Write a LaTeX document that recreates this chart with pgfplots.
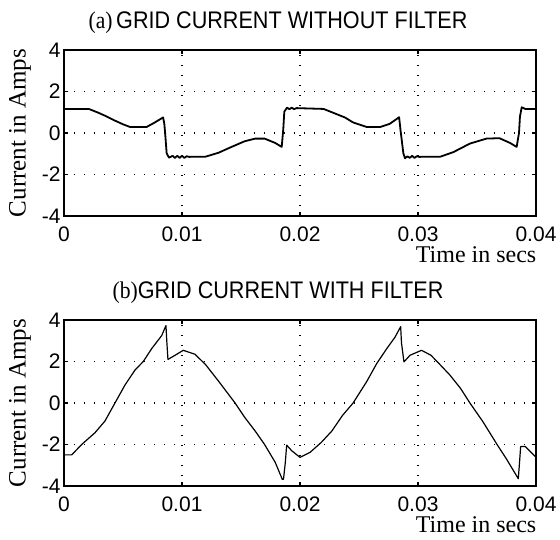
\documentclass[border=0pt]{standalone}
\usepackage{fontspec}
\setmainfont{Liberation Serif}
\setsansfont{Liberation Sans}
\usepackage{pgfplots}
\pgfplotsset{compat=1.18}
\pgfplotsset{
 mystyle/.style={
  scale only axis, width=472pt, height=166pt,
  xmin=0, xmax=0.04, ymin=-4, ymax=4,
  scaled x ticks=false, scaled y ticks=false,
  xtick={0,0.01,0.02,0.03,0.04}, xticklabels={0,0.01,0.02,0.03,0.04},
  ytick={-4,-2,0,2,4}, yticklabels={-4,-2,0,2,4},
  tick align=inside, major tick length=4pt,
  every tick/.style={black, line width=1.5pt},
  axis line style={line width=2pt},
  grid=major,
  major grid style={black, line width=1.3pt, dash pattern=on 1.3pt off 8.7pt},
  tick label style={font=\sffamily\fontsize{21}{21}\selectfont},
  xticklabel style={anchor=base, yshift=-25pt},
  xlabel={Time in secs},
  x label style={at={(axis description cs:1,0)}, anchor=base east, inner sep=0pt, yshift=-46pt, xshift=0.5pt, font=\fontsize{24}{24}\selectfont},
  ylabel={Current in Amps},
  y label style={at={(axis description cs:-0.0932,0.5)}, anchor=center, font=\fontsize{25}{25}\selectfont},
 }
}
\pgfplotstableread{
t y
0 1.16
0.0021 1.16
0.0029 0.98
0.0036 0.80
0.0043 0.60
0.0050 0.42
0.0056 0.29
0.0070 0.29
0.0077 0.51
0.0084 0.75
0.0085 0.45
0.00856 0.08
0.0087 -0.98
0.0089 -1.19
0.0092 -1.10
0.0094 -1.20
0.0096 -1.10
0.0098 -1.20
0.0100 -1.10
0.0102 -1.20
0.0104 -1.12
0.0106 -1.15
0.0120 -1.14
0.0131 -0.95
0.0142 -0.67
0.0153 -0.40
0.0162 -0.27
0.0170 -0.27
0.0179 -0.48
0.01845 -0.67
0.01858 0.16
0.01867 1.03
0.01890 1.22
0.0191 1.15
0.0193 1.22
0.0195 1.15
0.0197 1.20
0.0220 1.16
0.0227 1.00
0.0238 0.75
0.0245 0.51
0.02565 0.29
0.0268 0.29
0.0276 0.44
0.0284 0.76
0.02853 0.08
0.02876 -0.98
0.0289 -1.22
0.0291 -1.12
0.0293 -1.20
0.0295 -1.10
0.0297 -1.20
0.0299 -1.12
0.0301 -1.15
0.0319 -1.14
0.0330 -0.92
0.0344 -0.51
0.0358 -0.27
0.0369 -0.25
0.0378 -0.48
0.03836 -0.67
0.03856 0
0.03864 0.79
0.03879 1.24
0.0391 1.16
0.0400 1.16
}\dataA
\pgfplotstableread{
t y
0 -2.5
0.00065 -2.5
0.0015 -2.0
0.00263 -1.43
0.00347 -0.87
0.00432 0
0.00517 0.87
0.00602 1.59
0.00672 2.0
0.00743 2.62
0.00828 3.25
0.00864 3.73
0.00872 2.9
0.00881 2.1
0.00941 2.3
0.01011 2.54
0.0111 2.35
0.0120 1.85
0.0131 1.05
0.0139 0.45
0.0145 0
0.0153 -0.68
0.0162 -1.35
0.0170 -2.0
0.0179 -2.86
0.0185 -3.68
0.0186 -3.68
0.01875 -2.9
0.01887 -2.03
0.0193 -2.3
0.0200 -2.62
0.02085 -2.38
0.0218 -1.9
0.0227 -1.35
0.0236 -0.6
0.0245 0
0.02565 1.03
0.0265 1.9
0.02735 2.62
0.02805 3.17
0.02853 3.68
0.0286 2.9
0.02881 1.98
0.02932 2.3
0.0303 2.54
0.0311 2.3
0.0319 1.83
0.0327 1.35
0.0336 0.71
0.0344 0
0.0355 -0.9
0.0367 -2.0
0.0375 -2.7
0.0385 -3.65
0.0386 -2.9
0.0387 -2.1
0.0391 -2.1
0.0400 -2.62
}\dataB
\begin{document}
\begin{tikzpicture}
\path[use as bounding box] (0,0) rectangle (560pt,539pt);
\begin{axis}[mystyle, at={(64pt,323pt)}, anchor=south west]
\addplot[black, line width=1.8pt, line join=round] table[x=t,y=y] {\dataA};
\end{axis}
\begin{axis}[mystyle, at={(64pt,53pt)}, anchor=south west]
\addplot[black, line width=1.2pt, line join=round] table[x=t,y=y] {\dataB};
\end{axis}
\node[font=\sffamily\fontsize{24}{24}\selectfont] at (278pt,516pt) {\scalebox{0.9}[1]{{\rmfamily(a)}\,GRID CURRENT WITHOUT FILTER}};
\node[font=\sffamily\fontsize{24}{24}\selectfont] at (278pt,246pt) {\scalebox{0.9}[1]{{\rmfamily(b)}GRID CURRENT WITH FILTER}};
\end{tikzpicture}
\end{document}
